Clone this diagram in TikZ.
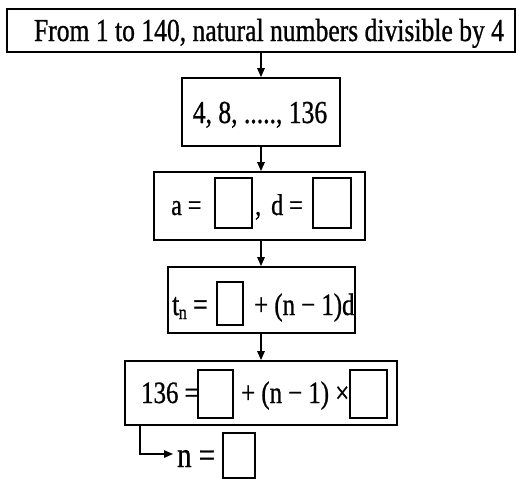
\documentclass[tikz,border=0pt]{standalone}
\usepackage{fontspec}
\setmainfont[FakeStretch=0.8,FakeBold=0.8]{Liberation Serif}
\usetikzlibrary{arrows.meta}
\newcommand{\fs}[1]{\fontsize{#1}{#1}\selectfont}
\tikzset{
  box/.style={draw, line width=1.8pt, minimum width=#1, inner sep=0pt},
  sq/.style={draw, line width=1.8pt, inner sep=0pt},
  txt/.style={anchor=base west, inner sep=0pt},
  arr/.style={line width=1.3pt, -{Triangle[length=9pt,width=7.5pt]}},
}
\begin{document}
\begin{tikzpicture}[x=1pt,y=-1pt]
\useasboundingbox (0,0) rectangle (517,479);
% boxes
\node[box=508pt, minimum height=43pt] (b1) at (261,30.5) {};
\node[box=158pt, minimum height=68pt] (b2) at (261,112) {};
\node[box=211pt, minimum height=68pt] (b3) at (259.5,206) {};
\node[box=187pt, minimum height=66pt] (b4) at (261.5,300) {};
\node[box=272pt, minimum height=64pt] (b5) at (261,393) {};
% texts
\node[anchor=base, inner sep=0pt] (t1) at (269,41) {\fs{32}From 1 to 140, natural numbers divisible by 4};
\node[anchor=base, inner sep=0pt] (t2) at (260,123) {\fs{32}4, 8, ....., 136};
% box 3
\node[txt] (t3a) at (171,215) {\fs{30}a =};
\node[sq, minimum width=37pt, minimum height=50pt] (s3a) at (233.5,203) {};
\node[txt] (t3c) at (255,215) {\fs{30},};
\node[txt] (t3d) at (271,215) {\fs{30}d =};
\node[sq, minimum width=38pt, minimum height=50pt] (s3b) at (332,203) {};
% box 4
\node[txt] (t4a) at (172,315) {\fs{32}t\kern-0.5pt\raisebox{-4pt}{\fs{20}n} =};
\node[sq, minimum width=26pt, minimum height=43pt] (s4) at (230,303.5) {};
\node[txt] (t4b) at (254,315) {\fs{31}+ (n − 1)d};
% box 5
\node[txt] (t5a) at (141,403) {\fs{31}136 =};
\node[sq, minimum width=35pt, minimum height=48pt] (s5a) at (215.5,394) {};
\node[txt] (t5b) at (241,403) {\fs{31}+ (n − 1) ×};
\node[sq, minimum width=37pt, minimum height=48pt] (s5b) at (368.5,394) {};
% bottom
\node[txt] (t6) at (177,467) {\fs{36}n =};
\node[sq, minimum width=32pt, minimum height=45pt] (s6) at (239,455.5) {};
% connectors
\draw[arr] (b1.south) -- (b2.north);
\draw[arr] (b2.south) -- (b3.north -| b2.south);
\draw[arr] (b3.south -| b2.south) -- (b4.north -| b2.south);
\draw[arr] (b4.south -| b2.south) -- (b5.north -| b2.south);
\coordinate (elb) at (140,454);
\coordinate (nend) at (173,454);
\draw[arr] (b5.south -| elb) -- (elb) -- (nend);
\end{tikzpicture}
\end{document}
